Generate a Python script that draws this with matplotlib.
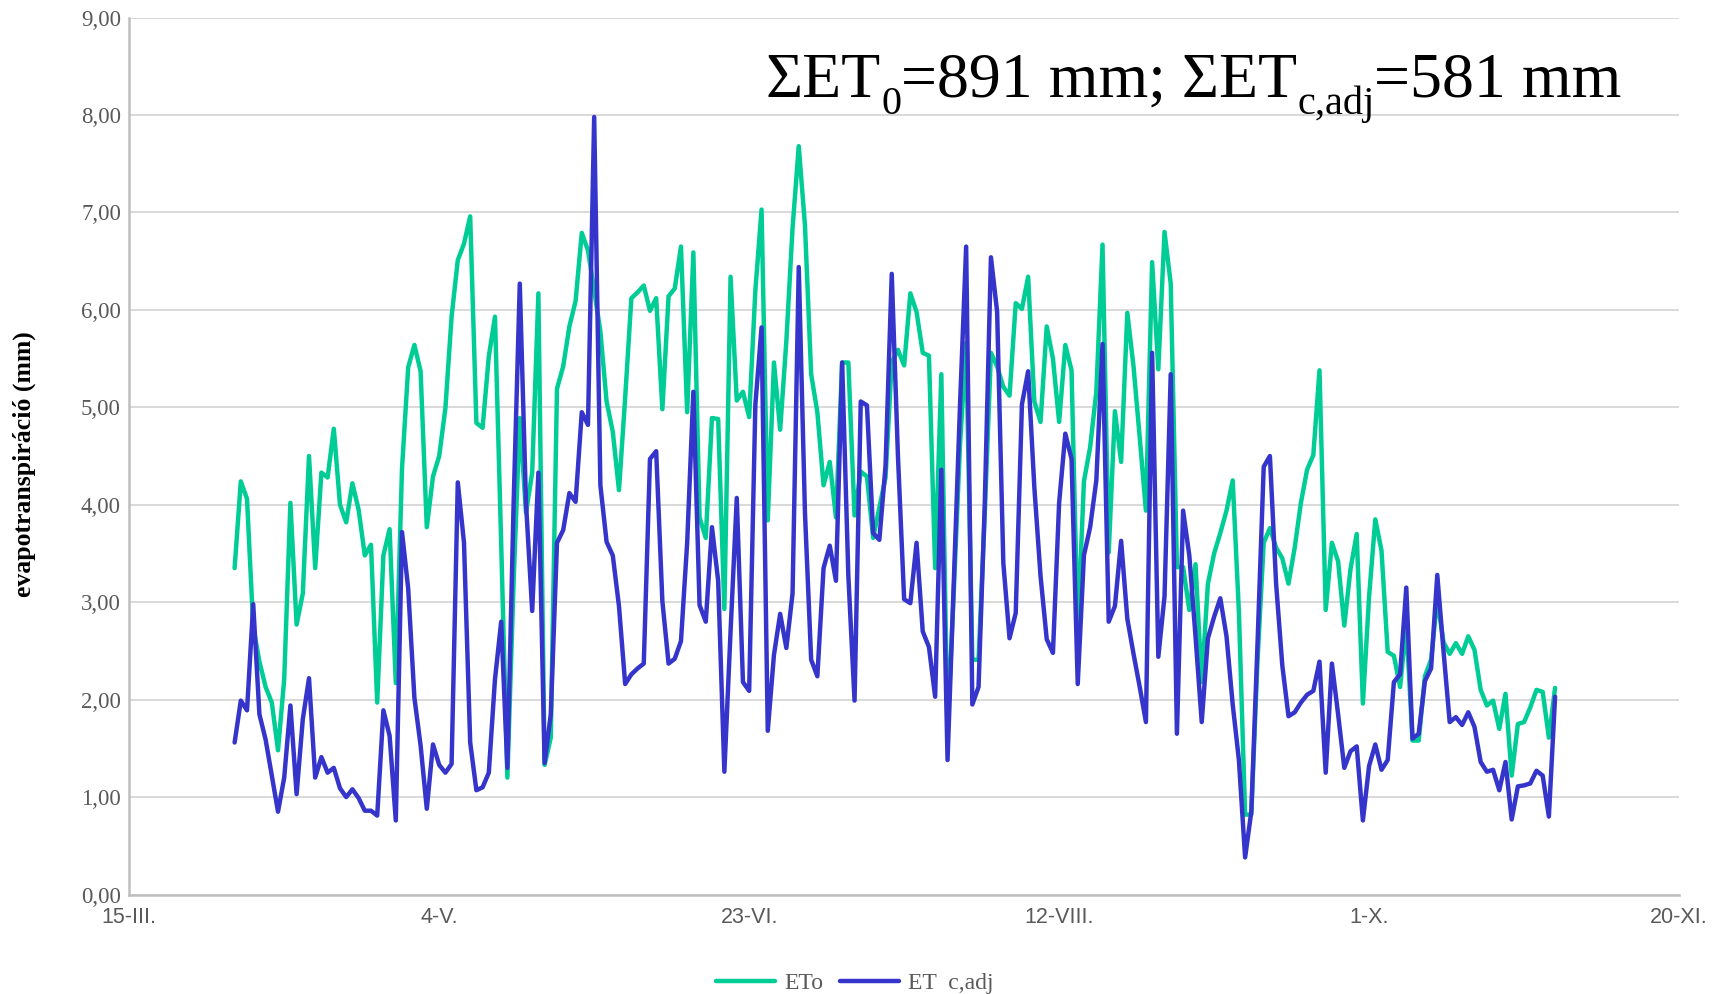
import numpy as np
import pandas as pd
import matplotlib
matplotlib.use("Agg")
import matplotlib.pyplot as plt

# Daily reference evapotranspiration (ETo) and adjusted crop evapotranspiration (ETc,adj), mm/day
start_date = "2021-04-01"
et0 = [
    3.35, 4.24, 4.06, 2.75, 2.39, 2.13, 1.97, 1.48, 2.21, 4.02,
    2.77, 3.09, 4.50, 3.35, 4.33, 4.28, 4.78, 4.00, 3.82, 4.22,
    3.95, 3.48, 3.59, 1.97, 3.48, 3.75, 2.17, 4.37, 5.41, 5.64,
    5.37, 3.77, 4.29, 4.50, 4.99, 5.93, 6.51, 6.68, 6.96, 4.84,
    4.79, 5.52, 5.93, 3.60, 1.20, 3.20, 4.89, 3.92, 4.33, 6.17,
    1.33, 1.61, 5.19, 5.42, 5.83, 6.09, 6.79, 6.61, 6.20, 5.78,
    5.06, 4.75, 4.15, 5.10, 6.12, 6.18, 6.25, 5.99, 6.12, 4.98,
    6.14, 6.22, 6.65, 4.95, 6.59, 3.87, 3.66, 4.89, 4.88, 2.93,
    6.34, 5.07, 5.16, 4.90, 6.20, 7.03, 3.84, 5.46, 4.77, 5.68,
    6.84, 7.68, 6.87, 5.34, 4.95, 4.20, 4.44, 3.87, 5.46, 5.46,
    3.89, 4.34, 4.29, 3.66, 3.97, 4.28, 5.46, 5.59, 5.43, 6.17,
    5.98, 5.56, 5.53, 3.35, 5.34, 1.69, 3.10, 4.60, 5.66, 2.41,
    2.41, 3.90, 5.56, 5.42, 5.21, 5.12, 6.07, 6.01, 6.34, 5.06,
    4.85, 5.83, 5.50, 4.85, 5.64, 5.38, 2.70, 4.24, 4.59, 5.16,
    6.67, 3.51, 4.96, 4.44, 5.97, 5.42, 4.69, 3.94, 6.49, 5.39,
    6.80, 6.27, 3.36, 3.36, 2.92, 3.39, 2.18, 3.19, 3.50, 3.71,
    3.94, 4.25, 2.90, 0.82, 0.82, 2.40, 3.61, 3.76, 3.56, 3.45,
    3.19, 3.56, 4.02, 4.36, 4.51, 5.38, 2.92, 3.61, 3.42, 2.76,
    3.34, 3.70, 1.96, 3.06, 3.85, 3.53, 2.49, 2.45, 2.13, 2.77,
    1.58, 1.58, 2.24, 2.41, 3.03, 2.59, 2.47, 2.58, 2.47, 2.65,
    2.51, 2.10, 1.94, 1.99, 1.70, 2.06, 1.22, 1.75, 1.77, 1.92,
    2.10, 2.08, 1.61, 2.12,
]
etc_adj = [
    1.56, 1.99, 1.89, 2.98, 1.85, 1.59, 1.22, 0.85, 1.20, 1.94,
    1.03, 1.80, 2.22, 1.20, 1.41, 1.25, 1.30, 1.09, 1.00, 1.08,
    0.99, 0.86, 0.86, 0.81, 1.89, 1.63, 0.76, 3.72, 3.14, 2.02,
    1.53, 0.88, 1.54, 1.33, 1.25, 1.34, 4.23, 3.61, 1.56, 1.07,
    1.10, 1.25, 2.21, 2.80, 1.30, 4.00, 6.27, 4.02, 2.91, 4.33,
    1.35, 1.85, 3.61, 3.74, 4.12, 4.03, 4.95, 4.82, 7.98, 4.20,
    3.62, 3.48, 2.96, 2.16, 2.26, 2.32, 2.37, 4.47, 4.55, 3.01,
    2.37, 2.42, 2.60, 3.61, 5.16, 2.97, 2.80, 3.77, 3.22, 1.26,
    2.70, 4.07, 2.18, 2.09, 5.03, 5.82, 1.68, 2.46, 2.88, 2.53,
    3.09, 6.44, 3.92, 2.41, 2.24, 3.35, 3.58, 3.22, 5.46, 3.27,
    1.99, 5.06, 5.02, 3.71, 3.64, 4.40, 6.37, 4.50, 3.03, 2.99,
    3.61, 2.70, 2.54, 2.03, 4.36, 1.38, 3.20, 5.00, 6.65, 1.95,
    2.13, 4.00, 6.54, 5.98, 3.40, 2.63, 2.89, 5.03, 5.37, 4.18,
    3.27, 2.62, 2.48, 4.02, 4.73, 4.47, 2.16, 3.48, 3.77, 4.25,
    5.65, 2.80, 2.96, 3.63, 2.83, 2.47, 2.13, 1.77, 5.56, 2.44,
    3.06, 5.34, 1.65, 3.94, 3.48, 2.65, 1.77, 2.63, 2.85, 3.04,
    2.65, 1.95, 1.38, 0.38, 0.85, 2.57, 4.39, 4.50, 3.19, 2.35,
    1.83, 1.87, 1.97, 2.05, 2.09, 2.39, 1.25, 2.37, 1.85, 1.30,
    1.47, 1.52, 0.76, 1.32, 1.54, 1.28, 1.38, 2.18, 2.26, 3.15,
    1.60, 1.65, 2.19, 2.32, 3.28, 2.50, 1.77, 1.82, 1.74, 1.87,
    1.72, 1.36, 1.26, 1.28, 1.07, 1.36, 0.77, 1.11, 1.12, 1.14,
    1.27, 1.22, 0.80, 2.03,
]

tick_dates = ["2021-03-15", "2021-05-04", "2021-06-23", "2021-08-12", "2021-10-01", "2021-11-20"]
tick_labels = ["15-III.", "4-V.", "23-VI.", "12-VIII.", "1-X.", "20-XI."]
y_ticks = [0, 1, 2, 3, 4, 5, 6, 7, 8, 9]
series_names = ["ETo", "ET  c,adj"]
# seasonal totals, written as (text, is_subscript) pieces
sum_pieces = [("ΣET", False), ("0", True), ("=891 mm; ΣET", False), ("c,adj", True), ("=581 mm", False)]

GREEN = "#00CC96"
BLUE = "#3535CC"
GREY_TXT = "#595959"

plt.rcParams["font.family"] = ["Liberation Serif", "DejaVu Serif"]

dates = pd.date_range(start_date, periods=len(et0), freq="D")
tdates = pd.to_datetime(tick_dates)

W, H = 1723, 994
fig = plt.figure(figsize=(W / 100, H / 100), dpi=100)
ax = fig.add_axes([0.075, 0.1001, 0.8995, 0.8822])

ax.plot(dates, et0, color=GREEN, lw=3.2, solid_joinstyle="round", solid_capstyle="round",
        label=series_names[0], zorder=3)
ax.plot(dates, etc_adj, color=BLUE, lw=3.2, solid_joinstyle="round", solid_capstyle="round",
        label=series_names[1], zorder=4)

ax.set_xlim(tdates[0], tdates[-1])
ax.set_ylim(0, 9)
ax.set_xticks(tdates)
ax.set_xticklabels(tick_labels, fontfamily="Liberation Sans", fontsize=15.5, color=GREY_TXT)
ax.set_yticks(y_ticks)
ax.set_yticklabels([f"{v:.2f}".replace(".", ",") for v in y_ticks], fontsize=16.5, color=GREY_TXT)
ax.tick_params(axis="both", length=0)
ax.tick_params(axis="x", pad=9)
ax.tick_params(axis="y", pad=6)

ax.grid(axis="y", color="#D9D9D9", lw=1.4, zorder=0)
for s in ("top", "right"):
    ax.spines[s].set_visible(False)
for s in ("left", "bottom"):
    ax.spines[s].set_color("#BFBFBF")
    ax.spines[s].set_linewidth(1.8)

# totals annotation: pieces laid out one after another on a shared baseline
renderer = fig.canvas.get_renderer()
x_px, base_px = 766.0, H - 96.7
main_size, sub_size, sub_drop = 46, 29, 17.0
for txt, is_sub in sum_pieces:
    y_px = base_px - sub_drop if is_sub else base_px
    t = fig.text(x_px / W, y_px / H, txt, fontsize=sub_size if is_sub else main_size,
                 color="black", ha="left", va="baseline")
    x_px = t.get_window_extent(renderer).x1

fig.text(0.0142, 0.533, "evapotranspiráció (mm)", rotation=90, ha="center", va="center",
         fontsize=18.5, fontweight="bold", color="black")

leg = fig.legend(loc="center", bbox_to_anchor=(0.496, 0.011), ncol=2, frameon=False,
                 fontsize=17, handlelength=2.5, columnspacing=0.7, handletextpad=0.4)
for t in leg.get_texts():
    t.set_color(GREY_TXT)

fig.savefig("out.png", dpi=100)
